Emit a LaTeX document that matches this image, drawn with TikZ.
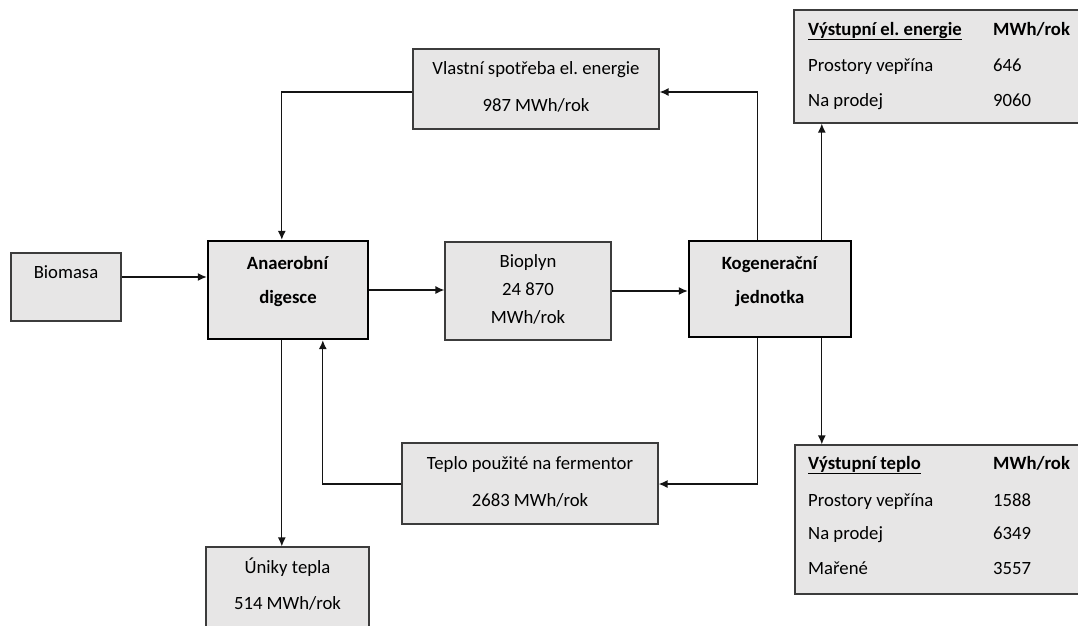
\documentclass[tikz,border=0pt]{standalone}
\usepackage{fontspec}
\setmainfont{Carlito}
\usetikzlibrary{arrows.meta}
\definecolor{boxfill}{RGB}{231,230,230}
\definecolor{boxline}{RGB}{60,60,60}
\definecolor{linecol}{RGB}{20,20,20}
\begin{document}
\frenchspacing
\begin{tikzpicture}[x=1pt,y=-1pt,
  box/.style={draw=boxline, line width=1.2pt, fill=boxfill, inner sep=0pt, anchor=center},
  mainbox/.style={draw=black, line width=2.4pt, fill=boxfill, inner sep=0pt, anchor=center},
  txt/.style={inner sep=0pt, font=\fontsize{18.7}{22}\selectfont, text height=12pt, text depth=0pt},
  ltxt/.style={txt, anchor=west},
  arr/.style={draw=linecol, line width=1.3pt, -{Latex[length=9pt,width=8pt]}}]
\useasboundingbox (0,0) rectangle (1078,625);
% boxes
\node[box, minimum width=110pt, minimum height=68pt] (biomasa) at (66,287) {};
\node[mainbox, minimum width=160pt, minimum height=98pt] (anaer) at (288,290) {};
\node[box, minimum width=166pt, minimum height=98pt] (bioplyn) at (528,291) {};
\node[mainbox, minimum width=162pt, minimum height=96pt] (kogen) at (770,289) {};
\node[box, minimum width=246pt, minimum height=80pt] (vlastni) at (536,89) {};
\node[box, minimum width=256pt, minimum height=81pt] (teplo) at (530,483.5) {};
\node[box, minimum width=163pt, minimum height=82pt] (uniky) at (287.5,588) {};
\node[box, minimum width=296pt, minimum height=113pt] (elec) at (942,66.5) {};
\node[box, minimum width=295pt, minimum height=149pt] (heat) at (942.5,519.5) {};
% texts
\node[txt] (tbiomasa) at (66,272) {Biomasa};
\node[txt] (tanaer1) at (288,263) {\textbf{Anaerobní}};
\node[txt] (tanaer2) at (288,297) {\textbf{digesce}};
\node[txt] (tbio1) at (528,261) {Bioplyn};
\node[txt] (tbio2) at (528,289) {24 870};
\node[txt] (tbio3) at (528,317) {MWh/rok};
\node[txt] (tkog1) at (770,263) {\textbf{Kogenerační}};
\node[txt] (tkog2) at (770,297) {\textbf{jednotka}};
\node[txt] (tvl1) at (536,68) {Vlastní spotřeba el. energie};
\node[txt] (tvl2) at (536,105) {987 MWh/rok};
\node[txt] (tte1) at (530,463) {Teplo použité na fermentor};
\node[txt] (tte2) at (530,500) {2683 MWh/rok};
\node[txt] (tun1) at (287.5,567) {Úniky tepla};
\node[txt] (tun2) at (287.5,603) {514 MWh/rok};
\node[ltxt] (te1) at (808,29) {\underline{\textbf{Výstupní el. energie}}};
\node[ltxt] (te2) at (993,29) {\textbf{MWh/rok}};
\node[ltxt] (te3) at (808,65) {Prostory vepřína};
\node[ltxt] (te4) at (993,65) {646};
\node[ltxt] (te5) at (808,100) {Na prodej};
\node[ltxt] (te6) at (993,100) {9060};
\node[ltxt] (th1) at (808,463) {\underline{\textbf{Výstupní teplo}}};
\node[ltxt] (th2) at (993,463) {\textbf{MWh/rok}};
\node[ltxt] (th3) at (808,500) {Prostory vepřína};
\node[ltxt] (th4) at (993,500) {1588};
\node[ltxt] (th5) at (808,533) {Na prodej};
\node[ltxt] (th6) at (993,533) {6349};
\node[ltxt] (th7) at (808,568) {Mařené};
\node[ltxt] (th8) at (993,568) {3557};
% connectors
\draw[arr] ([yshift=10pt]biomasa.east) -- ([yshift=10pt]biomasa.east -| anaer.west);
\draw[arr] (anaer.east) -- (anaer.east -| bioplyn.west);
\draw[arr] (bioplyn.east) -- (bioplyn.east -| kogen.west);
\draw[arr] ([xshift=70pt]kogen.north west) |- ([yshift=-3pt]vlastni.east);
\draw[arr] ([yshift=-3pt]vlastni.west) -| ([xshift=75pt]anaer.north west);
\draw[arr] ([xshift=134pt]kogen.north west) -- ([xshift=134pt]kogen.north west |- elec.south);
\draw[arr] ([xshift=134pt]kogen.south west) -- ([xshift=134pt]kogen.south west |- heat.north);
\draw[arr] ([xshift=70pt]kogen.south west) |- ([yshift=-0.5pt]teplo.east);
\draw[arr] ([yshift=-0.5pt]teplo.west) -| ([xshift=116pt]anaer.south west);
\draw[arr] ([xshift=75pt]anaer.south west) -- ([xshift=75pt]anaer.south west |- uniky.north);
\end{tikzpicture}
\end{document}
